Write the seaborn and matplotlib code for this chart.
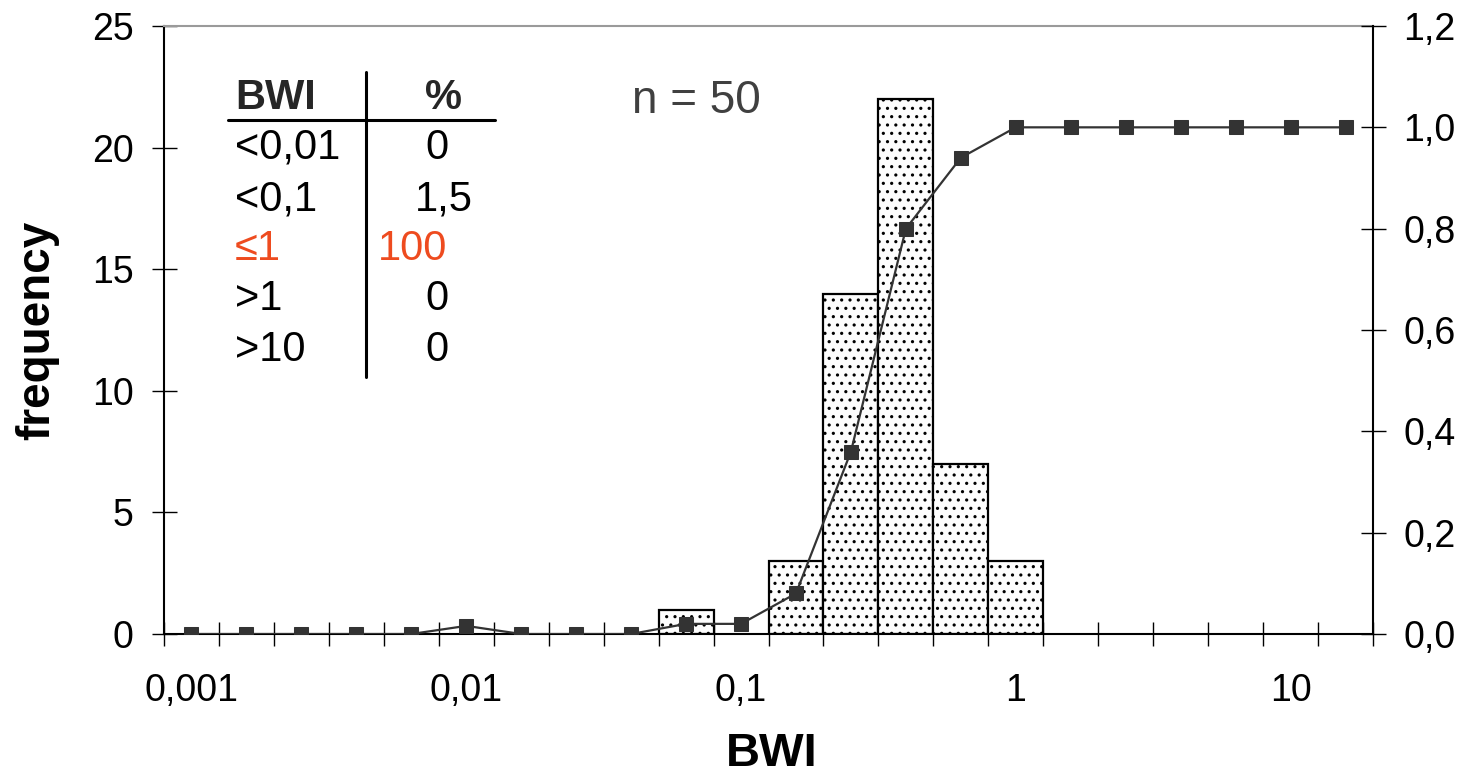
import matplotlib
matplotlib.use("Agg")
import matplotlib.pyplot as plt
import seaborn as sns
import numpy as np
import pandas as pd

# ---- data ----
bin_labels = ["0,001", "0,01", "0,1", "1", "10"]
label_positions = [0, 5, 10, 15, 20]
frequency = [0, 0, 0, 0, 0, 0, 0, 0, 0, 1, 0, 3, 14, 22, 7, 3, 0, 0, 0, 0, 0, 0]
cumulative = [0, 0, 0, 0, 0, 0.016, 0, 0, 0, 0.02, 0.02, 0.08, 0.36, 0.80, 0.94,
              1.0, 1.0, 1.0, 1.0, 1.0, 1.0, 1.0]
left_ticks = [0, 5, 10, 15, 20, 25]
right_ticks = [0.0, 0.2, 0.4, 0.6, 0.8, 1.0, 1.2]
table_bwi = ["<0,01", "<0,1", "≤1", ">1", ">10"]
table_pct = ["0", "1,5", "100", "0", "0"]
n_text = "n = 50"

sns.set_theme(style="white")
plt.rcParams['font.family'] = ['Liberation Sans', 'DejaVu Sans']
plt.rcParams['hatch.linewidth'] = 1.1
plt.rcParams['hatch.color'] = '#8c8c8c'

fig = plt.figure(figsize=(14.75, 7.76), dpi=100)
ax = fig.add_axes([164/1475, 1-634/776, 1209/1475, 608/776])

idx = list(range(len(frequency)))
df = pd.DataFrame({"bin": idx, "freq": frequency, "cum": cumulative})

sns.barplot(data=df, x="bin", y="freq", ax=ax, width=1.0, color="white",
            edgecolor="black", linewidth=1.6, native_scale=True)
for p in ax.patches:
    p.set_hatch('..')
    p.set_facecolor('#fdfdfd')
    p.set_edgecolor('black')
    if p.get_height() == 0:
        p.set_visible(False)

ax.set_xlim(-0.5, len(frequency) - 0.5)
ax.set_ylim(0, 25)
ax.set_yticks(left_ticks)
ax.set_yticklabels([str(t) for t in left_ticks])

# x ticks: edges (marks) and labels (no marks)
edges = np.arange(-0.5, len(frequency), 1.0)
ax.set_xticks(edges)
ax.set_xticklabels([])
ax.set_xticks(label_positions, minor=True)
ax.set_xticklabels(bin_labels, minor=True)
ax.tick_params(axis='x', which='major', direction='inout', length=17, width=1.0,
               color='black', bottom=True)
ax.tick_params(axis='x', which='minor', length=0, pad=28, labelsize=27,
               labelcolor='black')
ax.tick_params(axis='y', which='major', direction='inout', length=18, width=1.0,
               color='black', left=True, pad=13, labelsize=27, labelcolor='black')

for s in ['left', 'bottom']:
    ax.spines[s].set_color('black')
    ax.spines[s].set_linewidth(1.5)
ax.spines['right'].set_visible(False)
ax.spines['top'].set_color('#9a9a9a')
ax.spines['top'].set_linewidth(1.5)

ax.set_xlabel("BWI", fontsize=34, fontweight='bold', color='black')
ax.xaxis.set_label_coords(0.503, -0.217)
ax.xaxis.label.set_va('baseline')
ax.set_ylabel("frequency", fontsize=33, fontweight='bold', color='black')
ax.yaxis.set_label_coords(-0.105, 0.5)
ax.yaxis.label.set_va('center')

ax2 = ax.twinx()
sns.lineplot(data=df, x="bin", y="cum", ax=ax2, color='#333333', linewidth=1.6,
             marker='s', markersize=10, markeredgecolor='#333333', markerfacecolor='#333333')
ax2.set_ylim(0, 1.2)
ax2.set_yticks(right_ticks)
ax2.set_yticklabels([f"{t:.1f}".replace('.', ',') for t in right_ticks])
ax2.tick_params(axis='y', which='major', direction='inout', length=18, width=1.0,
                color='black', right=True, pad=13, labelsize=27, labelcolor='black')
ax2.set_ylabel("")
ax2.set_xlabel("")
ax2.set_xlim(-0.5, len(frequency) - 0.5)
for s in ['left', 'bottom', 'top']:
    ax2.spines[s].set_visible(False)
ax2.spines['right'].set_color('black')
ax2.spines['right'].set_linewidth(1.5)
ax2.grid(False)
ax.grid(False)

# ---- table inset (figure pixel coords) ----
def fx(px):
    return px / 1475
def fy(py):
    return 1 - py / 776

fig.text(fx(235), fy(98), "BWI", fontsize=30, fontweight='bold', ha='left', va='center')
fig.text(fx(443), fy(98), "%", fontsize=30, fontweight='bold', ha='center', va='center')
row_y = [148, 200, 249, 299, 350]
pct_x = [437, 444, 413, 437, 437]
for i, (b, p) in enumerate(zip(table_bwi, table_pct)):
    col = '#EE4B1F' if b == "≤1" else 'black'
    fig.text(fx(235), fy(row_y[i]), b, fontsize=30, ha='left', va='center', color=col)
    fig.text(fx(pct_x[i]), fy(row_y[i]), p, fontsize=30, ha='center', va='center', color=col)
fig.add_artist(plt.Line2D([fx(228), fx(495)], [fy(120), fy(120)], color='black', lw=2.2))
fig.add_artist(plt.Line2D([fx(366), fx(366)], [fy(72), fy(377)], color='black', lw=2.2))

fig.text(fx(696), fy(101), n_text, fontsize=33, color='#404040', ha='center', va='center')

fig.savefig("out.png", dpi=100)
